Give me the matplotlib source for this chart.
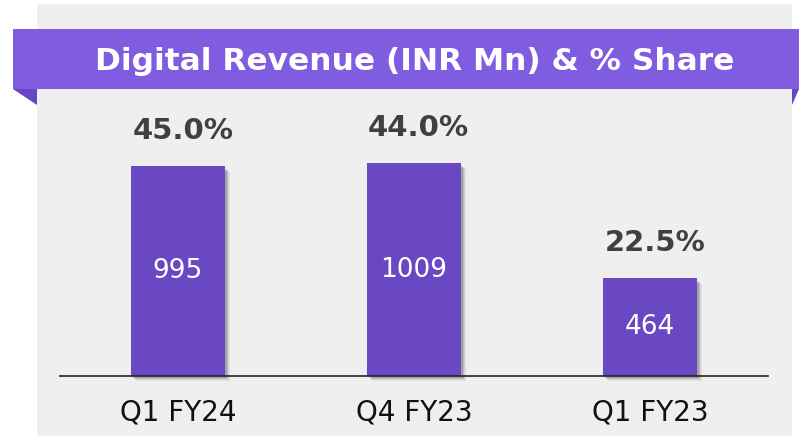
import matplotlib
matplotlib.use("Agg")
import matplotlib.pyplot as plt
from matplotlib.patches import Rectangle, Polygon

categories = ["Q1 FY24", "Q4 FY23", "Q1 FY23"]
revenue = [995, 1009, 464]
share = ["45.0%", "44.0%", "22.5%"]
title = "Digital Revenue (INR Mn) & % Share"

W, H = 799, 436
fig = plt.figure(figsize=(W / 100, H / 100), dpi=100)
fig.patch.set_facecolor("white")

# background layer in pixel coords (y down)
bg = fig.add_axes([0, 0, 1, 1])
bg.set_xlim(0, W)
bg.set_ylim(H, 0)
bg.axis("off")
bg.add_patch(Rectangle((37, 4), 755, 432, color="#efefef", lw=0))
bg.add_patch(Polygon([(13, 89), (37, 89), (37, 105)], color="#6a44c8", lw=0))
bg.add_patch(Polygon([(792, 89), (799, 89), (792, 105)], color="#6a44c8", lw=0))
bg.add_patch(Rectangle((13, 29), 786, 60, color="#7f5ce0", lw=0))
bg.text(415, 61, title, color="white", fontsize=22.5, fontweight="bold",
        ha="center", va="center", family="DejaVu Sans")

# bars axes: baseline at y=376 px, top at y=100 px
px_y = 0.211  # px per INR Mn
px_x = 236    # px per category
ax = fig.add_axes([60 / W, (H - 376) / H, 708 / W, 276 / H])
ax.patch.set_alpha(0)
ax.set_xlim(-0.5, 2.5)
ax.set_ylim(0, 276 / px_y)
x = list(range(len(categories)))

# soft shadow, offset right/down a few px
for d, a in [(5, 0.05), (4, 0.07), (3, 0.10), (2, 0.14)]:
    ax.bar([xi + d / px_x for xi in x], [v - 1 / px_y for v in revenue],
           width=0.40, bottom=-d / px_y, color="black", alpha=a, lw=0,
           clip_on=False)
ax.bar(x, revenue, width=0.40, color="#6a48c4", lw=0, zorder=3)

for xi, v, s in zip(x, revenue, share):
    ax.text(xi, v / 2, str(v), color="white", fontsize=19, ha="center",
            va="center", zorder=4)
    ax.text(xi + 0.02, v + 35 / px_y, s, color="#404040", fontsize=21,
            fontweight="bold", ha="center", va="center")

for sp in ["top", "right", "left"]:
    ax.spines[sp].set_visible(False)
ax.spines["bottom"].set_color("#222222")
ax.spines["bottom"].set_linewidth(1.2)
ax.spines["bottom"].set_zorder(5)
ax.set_yticks([])
ax.set_xticks(x)
ax.set_xticklabels(categories, fontsize=20, color="#111111")
ax.tick_params(axis="x", length=0, pad=16)

fig.savefig("out.png", dpi=100)
